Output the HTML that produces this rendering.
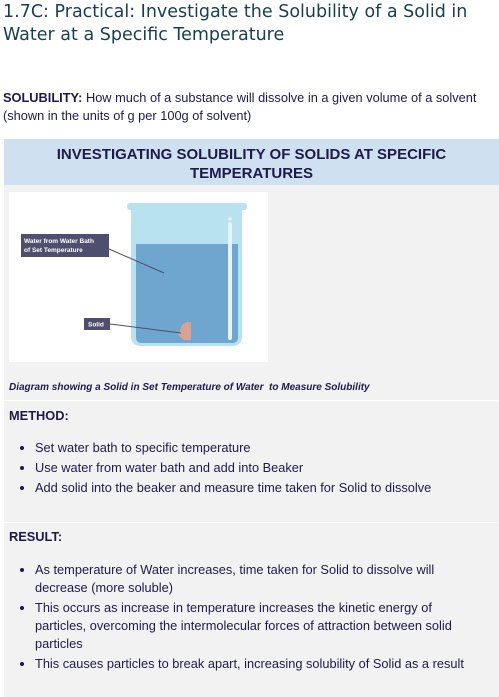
<!DOCTYPE html>
<html><head><meta charset="utf-8"><style>
body{margin:0;width:499px;height:697px;background:#fff;font-family:"Liberation Sans",sans-serif;position:relative;overflow:hidden}
.a{position:absolute}
h1{position:absolute;left:3px;top:1px;margin:0;font-weight:normal;font-size:18.5px;line-height:23px;color:#173f4f;width:470px;font-family:"DejaVu Sans",sans-serif;font-size:17.5px}
.t{color:#1d1a4a;font-size:12.8px;line-height:18px}
ul{margin:0;padding-left:31px}
li{margin:0}
</style></head><body>
<h1>1.7C: Practical: Investigate the Solubility of a Solid in Water at a Specific Temperature</h1>
<div class="a t" style="left:3px;top:89px;width:494px"><b>SOLUBILITY:</b> How much of a substance will dissolve in a given volume of a solvent (shown in the units of g per 100g of solvent)</div>
<div class="a" style="left:4px;top:139px;width:495px;height:558px;background:#f2f2f2"></div>
<div class="a" style="left:4px;top:139px;width:495px;height:46px;background:#cfe0f0;color:#1d1a4a;font-weight:bold;font-size:15px;line-height:19px;text-align:center;padding-top:6px;box-sizing:border-box">INVESTIGATING SOLUBILITY OF SOLIDS AT SPECIFIC<br>TEMPERATURES</div>
<svg class="a" style="left:9px;top:192px" width="259" height="170">
<rect width="259" height="170" fill="#fff"/>
<rect x="118" y="11" width="120" height="7" rx="3" fill="#b9e2f1"/>
<path d="M122 17 H233 V144 Q233 154 223 154 H132 Q122 154 122 144 Z" fill="#b9e2f1"/>
<path d="M127 52 H229 V145 Q229 151 223 151 H133 Q127 151 127 145 Z" fill="#6ea6d0"/>
<rect x="219" y="30" width="4" height="118" rx="2" fill="#e6f4fa"/>
<circle cx="221" cy="27" r="1.6" fill="#e6f4fa"/>
<path d="M173 133 L178 130 H182 V148 H175 L169 143 Z" fill="#d9a294"/>
<rect x="12" y="42" width="88" height="23" fill="#4e4f6e"/>
<text x="15" y="51" font-size="6.5" font-weight="bold" fill="#fff">Water from Water Bath</text>
<text x="15" y="60" font-size="6.5" font-weight="bold" fill="#fff">of Set Temperature</text>
<line x1="100" y1="57" x2="155" y2="81" stroke="#4e4f6e" stroke-width="1"/>
<rect x="75" y="126" width="26" height="12" fill="#4e4f6e"/>
<text x="79" y="134.5" font-size="6.5" font-weight="bold" fill="#fff">Solid</text>
<line x1="101" y1="132" x2="172" y2="141" stroke="#4e4f6e" stroke-width="1"/>
</svg>
<div class="a t" style="left:9px;top:379px;font-size:10px;font-weight:bold;font-style:italic">Diagram showing a Solid in Set Temperature of Water&nbsp; to Measure Solubility</div>
<div class="a" style="left:4px;top:400px;width:495px;height:1px;background:#fff"></div>
<div class="a t" style="left:9px;top:407px;font-weight:bold">METHOD:</div>
<div class="a t" style="left:4px;top:439px;width:480px"><ul>
<li>Set water bath to specific temperature</li><li style="margin-top:2px">Use water from water bath and add into Beaker</li><li style="margin-top:2px">Add solid into the beaker and measure time taken for Solid to dissolve</li></ul></div>
<div class="a" style="left:4px;top:522px;width:495px;height:1px;background:#fff"></div>
<div class="a t" style="left:9px;top:528px;font-weight:bold">RESULT:</div>
<div class="a t" style="left:4px;top:561px;width:470px"><ul>
<li>As temperature of Water increases, time taken for Solid to dissolve will decrease (more soluble)</li><li style="margin-top:2px">This occurs as increase in temperature increases the kinetic energy of particles, overcoming the intermolecular forces of attraction between solid particles</li><li style="margin-top:2px">This causes particles to break apart, increasing solubility of Solid as a result</li></ul></div>
</body></html>
